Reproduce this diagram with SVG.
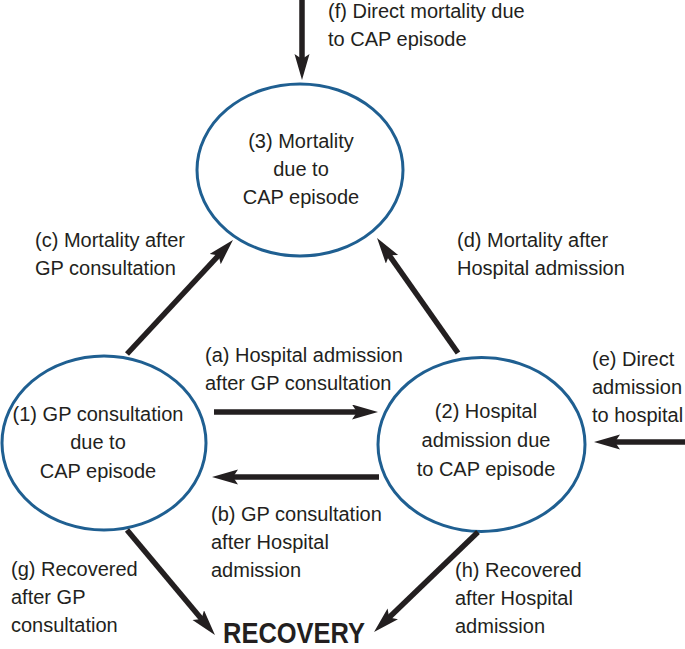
<svg xmlns="http://www.w3.org/2000/svg" width="685" height="649" viewBox="0 0 685 649">
<style>
  text { font-family: "Liberation Sans", Arial, sans-serif; font-size: 20px; fill: #231f20; }
  .c { text-anchor: middle; }
  .node ellipse { fill: #ffffff; stroke: #1f5f91; stroke-width: 3; }
  .arrow { stroke: #231f20; stroke-width: 5.5; fill: none; marker-end: url(#ah); }
  .title { font-weight: bold; font-size: 29px; }
</style>
<defs>
  <marker id="ah" markerUnits="userSpaceOnUse" markerWidth="28" markerHeight="16" refX="8" refY="7.5" orient="auto">
    <path d="M0,0 L26,7.5 L0,15 L5,7.5 Z" fill="#231f20"/>
  </marker>
</defs>
<rect width="685" height="649" fill="#ffffff"/>

<g id="node3" class="node">
  <ellipse cx="300" cy="170" rx="103" ry="86"/>
  <text class="c" x="301" y="148">(3) Mortality</text>
  <text class="c" x="301" y="176">due to</text>
  <text class="c" x="301" y="204">CAP episode</text>
</g>
<g id="node1" class="node">
  <ellipse cx="104" cy="443" rx="102" ry="87"/>
  <text class="c" x="98" y="421">(1) GP consultation</text>
  <text class="c" x="98" y="449">due to</text>
  <text class="c" x="98" y="478">CAP episode</text>
</g>
<g id="node2" class="node">
  <ellipse cx="481.5" cy="444.5" rx="103.5" ry="87"/>
  <text class="c" x="486" y="418">(2) Hospital</text>
  <text class="c" x="486" y="447">admission due</text>
  <text class="c" x="486" y="476">to CAP episode</text>
</g>
<g id="recovery">
  <text class="title" x="223" y="643" textLength="142" lengthAdjust="spacingAndGlyphs">RECOVERY</text>
</g>

<g id="connectors">
  <line class="arrow" x1="302" y1="0" x2="302" y2="62"/>
  <line class="arrow" x1="127" y1="354" x2="220.7" y2="253.2"/>
  <line class="arrow" x1="458" y1="353" x2="387.4" y2="252.7"/>
  <line class="arrow" x1="214" y1="412" x2="360" y2="412"/>
  <line class="arrow" x1="379" y1="477" x2="230" y2="477"/>
  <line class="arrow" x1="685" y1="442" x2="612" y2="442"/>
  <line class="arrow" x1="127" y1="530" x2="203.4" y2="621.2"/>
  <line class="arrow" x1="478" y1="532" x2="387" y2="619.5"/>
</g>

<g id="labels">
  <text x="328" y="17.5">(f) Direct mortality due</text>
  <text x="328" y="45.5">to CAP episode</text>
  <text x="35" y="247">(c) Mortality after</text>
  <text x="35" y="275">GP consultation</text>
  <text x="457" y="247">(d) Mortality after</text>
  <text x="457" y="275">Hospital admission</text>
  <text x="205" y="362">(a) Hospital admission</text>
  <text x="205" y="390">after GP consultation</text>
  <text x="592" y="366">(e) Direct</text>
  <text x="592" y="394">admission</text>
  <text x="592" y="422">to hospital</text>
  <text x="211" y="521">(b) GP consultation</text>
  <text x="211" y="549">after Hospital</text>
  <text x="211" y="577">admission</text>
  <text x="11" y="576">(g) Recovered</text>
  <text x="11" y="604">after GP</text>
  <text x="11" y="632">consultation</text>
  <text x="455" y="577">(h) Recovered</text>
  <text x="455" y="605">after Hospital</text>
  <text x="455" y="633">admission</text>
</g>
</svg>
